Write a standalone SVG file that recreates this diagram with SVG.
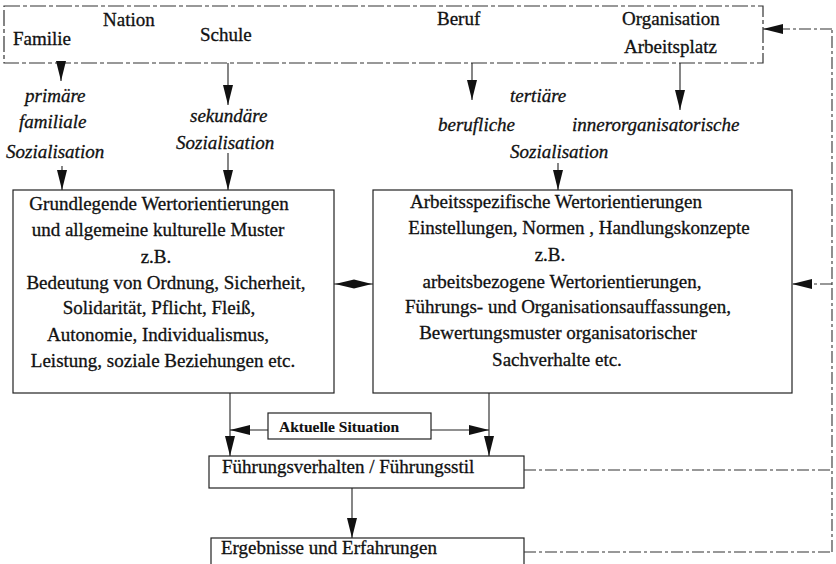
<svg xmlns="http://www.w3.org/2000/svg" width="836" height="564" viewBox="0 0 836 564">
<style>
text{font-family:"Liberation Serif","Times New Roman",serif;font-size:19px;fill:#111;stroke:#111;stroke-width:0.3}
.it{font-style:italic}
.sm{font-size:15.5px;font-weight:bold;stroke-width:0.1}
.box{fill:none;stroke:#222;stroke-width:1.2}
.dbox{fill:none;stroke:#333;stroke-width:1.2;stroke-dasharray:16 3 4 3}
.ln{fill:none;stroke:#222;stroke-width:1.1}
.dl{fill:none;stroke:#333;stroke-width:1.1;stroke-dasharray:12 3 3 3}
</style>
<defs>
<marker id="ah" markerUnits="userSpaceOnUse" markerWidth="20" markerHeight="10" refX="20" refY="5" orient="auto">
<path d="M0,0 L20,5 L0,10 z" fill="#111"/>
</marker>
</defs>
<rect width="836" height="564" fill="#fff"/>
<g id="quellen">
<rect class="dbox" x="4" y="6" width="759" height="57"/>
<text x="13" y="45">Familie</text>
<text x="103" y="26">Nation</text>
<text x="200" y="41">Schule</text>
<text x="437" y="25">Beruf</text>
<text x="622" y="25">Organisation</text>
<text x="624" y="53">Arbeitsplatz</text>
</g>
<g id="sozialisation-labels">
<text class="it" x="25" y="102">primäre</text>
<text class="it" x="19" y="128">familiale</text>
<text class="it" x="6" y="158">Sozialisation</text>
<text class="it" x="190" y="122">sekundäre</text>
<text class="it" x="176" y="149">Sozialisation</text>
<text class="it" x="510" y="102">tertiäre</text>
<text class="it" x="438" y="131">berufliche</text>
<text class="it" x="572" y="131">innerorganisatorische</text>
<text class="it" x="510" y="158">Sozialisation</text>
</g>
<g id="grundlegende">
<rect class="box" x="13" y="190" width="321" height="203"/>
<g text-anchor="middle">
<text x="159" y="210">Grundlegende Wertorientierungen</text>
<text x="158" y="236">und allgemeine kulturelle Muster</text>
<text x="156" y="263">z.B.</text>
<text x="166" y="289">Bedeutung von Ordnung, Sicherheit,</text>
<text x="159" y="314">Solidarität, Pflicht, Fleiß,</text>
<text x="158" y="341">Autonomie, Individualismus,</text>
<text x="163" y="367">Leistung, soziale Beziehungen etc.</text>
</g>
</g>
<g id="arbeitsspezifische">
<rect class="box" x="373" y="190" width="419" height="203"/>
<g text-anchor="middle">
<text x="556" y="208">Arbeitsspezifische Wertorientierungen</text>
<text x="579" y="234">Einstellungen, Normen , Handlungskonzepte</text>
<text x="550" y="261">z.B.</text>
<text x="562" y="288">arbeitsbezogene Wertorientierungen,</text>
<text x="568" y="313">Führungs- und Organisationsauffassungen,</text>
<text x="558" y="339">Bewertungsmuster organisatorischer</text>
<text x="557" y="366">Sachverhalte etc.</text>
</g>
</g>
<g id="situation">
<rect class="box" x="268" y="413" width="163" height="26"/>
<text class="sm" x="279" y="432">Aktuelle Situation</text>
</g>
<g id="fuehrung">
<rect class="box" x="209" y="456" width="315" height="32"/>
<text x="222" y="473">Führungsverhalten / Führungsstil</text>
</g>
<g id="ergebnisse">
<rect class="box" x="211" y="538" width="313" height="40"/>
<text x="221" y="554">Ergebnisse und Erfahrungen</text>
</g>
<g id="connectors">
<line class="ln" x1="61" y1="63" x2="61" y2="81" marker-end="url(#ah)"/>
<line class="ln" x1="62" y1="166" x2="62" y2="190" marker-end="url(#ah)"/>
<line class="ln" x1="228" y1="63" x2="228" y2="105" marker-end="url(#ah)"/>
<line class="ln" x1="228" y1="153" x2="228" y2="190" marker-end="url(#ah)"/>
<line class="ln" x1="472" y1="63" x2="472" y2="100" marker-end="url(#ah)"/>
<line class="ln" x1="680" y1="63" x2="680" y2="110" marker-end="url(#ah)"/>
<line class="ln" x1="558" y1="163" x2="558" y2="190" marker-end="url(#ah)"/>
<line class="ln" x1="334" y1="284" x2="373" y2="284"/>
<polygon points="335,284 354,279.5 372,284 354,288.5" fill="#111"/>
<line class="ln" x1="230" y1="393" x2="230" y2="456" marker-end="url(#ah)"/>
<line class="ln" x1="489" y1="393" x2="489" y2="456" marker-end="url(#ah)"/>
<line class="ln" x1="268" y1="430" x2="230" y2="430" marker-end="url(#ah)"/>
<line class="ln" x1="431" y1="430" x2="489" y2="430" marker-end="url(#ah)"/>
<line class="ln" x1="352" y1="488" x2="352" y2="538" marker-end="url(#ah)"/>
<line class="dl" x1="524" y1="470" x2="832" y2="470"/>
<line class="dl" x1="524" y1="552" x2="832" y2="552"/>
<line class="dl" x1="832" y1="552" x2="832" y2="29"/>
<line class="dl" x1="832" y1="29" x2="763" y2="29" marker-end="url(#ah)"/>
<line class="dl" x1="832" y1="284" x2="792" y2="284" marker-end="url(#ah)"/>
</g>
</svg>
